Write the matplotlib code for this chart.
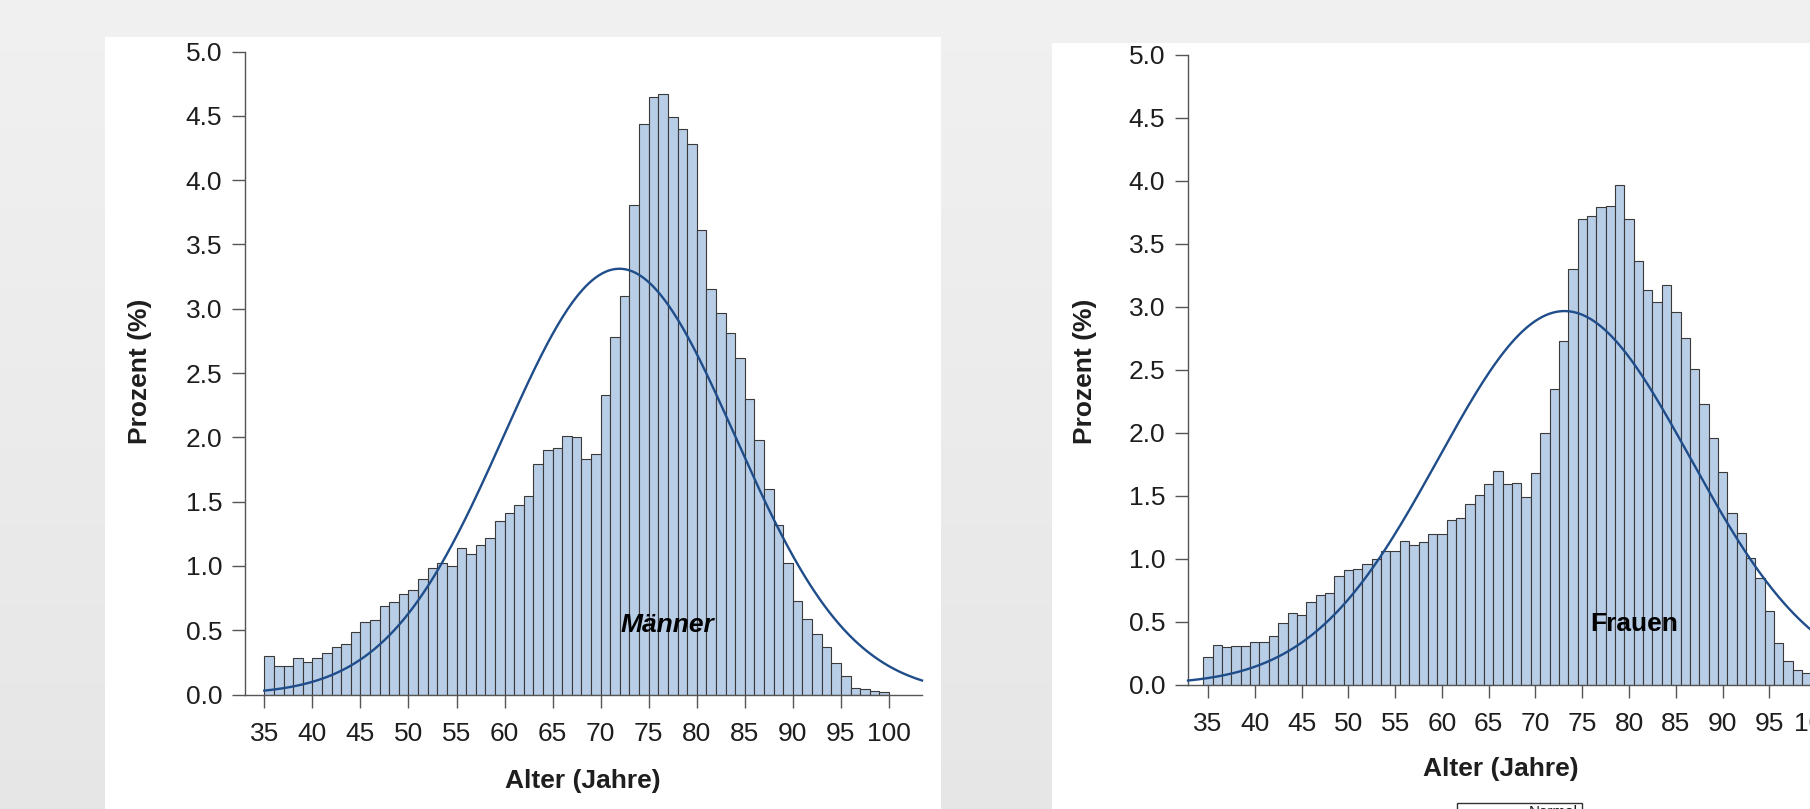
import numpy as np
import matplotlib.pyplot as plt
from matplotlib.patches import Rectangle

W, H = 1810, 809
DPI = 100

# ages (bins of 1 year) and percentages
AGES = list(range(35, 100))

MAENNER = [0.30, 0.225, 0.22, 0.28, 0.256, 0.28, 0.32, 0.37, 0.395, 0.484,
           0.56, 0.583, 0.687, 0.723, 0.785, 0.81, 0.90, 0.98, 1.02, 1.00,
           1.14, 1.09, 1.16, 1.22, 1.35, 1.41, 1.475, 1.54, 1.79, 1.90,
           1.92, 2.01, 2.00, 1.83, 1.87, 2.33, 2.78, 3.10, 3.81, 4.44,
           4.65, 4.67, 4.49, 4.40, 4.28, 3.61, 3.15, 2.97, 2.81, 2.62,
           2.30, 1.98, 1.60, 1.32, 1.02, 0.73, 0.585, 0.47, 0.366, 0.243,
           0.14, 0.05, 0.04, 0.025, 0.02]

FRAUEN = [0.22, 0.315, 0.30, 0.307, 0.307, 0.34, 0.34, 0.386, 0.49, 0.568,
          0.552, 0.655, 0.71, 0.73, 0.864, 0.915, 0.92, 0.958, 1.00, 1.06,
          1.065, 1.145, 1.11, 1.135, 1.20, 1.195, 1.31, 1.32, 1.435, 1.51,
          1.59, 1.70, 1.59, 1.605, 1.487, 1.684, 1.995, 2.35, 2.73, 3.30,
          3.70, 3.72, 3.79, 3.80, 3.97, 3.70, 3.36, 3.13, 3.04, 3.17,
          2.96, 2.75, 2.51, 2.23, 1.96, 1.69, 1.365, 1.207, 1.01, 0.844,
          0.584, 0.33, 0.185, 0.117, 0.095]

# fitted normal curves (mean, sd) as drawn in the reference
M_MEAN, M_SD = 71.95, 12.05
F_MEAN, F_SD = 73.1, 13.45

XTICKS = list(range(35, 101, 5))
YTICKS = [0.0, 0.5, 1.0, 1.5, 2.0, 2.5, 3.0, 3.5, 4.0, 4.5, 5.0]

BAR_FILL = "#b8cde6"
BAR_EDGE = "#3a3a3a"
CURVE = "#1f4d8a"
TXT = "#1e1e1e"

plt.rcParams["font.family"] = ["Liberation Sans", "DejaVu Sans"]

fig = plt.figure(figsize=(W / DPI, H / DPI), dpi=DPI)


def frect(x0, y0, x1, y1):
    """pixel box (top-left origin) -> figure fraction [l, b, w, h]"""
    return [x0 / W, 1 - y1 / H, (x1 - x0) / W, (y1 - y0) / H]


# background gradient + white chart panels
bg = fig.add_axes([0, 0, 1, 1], zorder=-10)
grad = np.linspace(0.94, 0.90, 256).reshape(-1, 1)
bg.imshow(grad, cmap="gray", vmin=0, vmax=1, aspect="auto", extent=[0, 1, 0, 1])
bg.add_patch(Rectangle((105 / W, 0), (941 - 105) / W, 1 - 37 / H,
                       facecolor="white", edgecolor="none"))
bg.add_patch(Rectangle((1052 / W, 0), 1 - 1052 / W, 1 - 43 / H,
                       facecolor="white", edgecolor="none"))
# legend box, cut off by the bottom edge
bg.add_patch(Rectangle((1457 / W, -0.02), (1582 - 1457) / W, 0.02 + 1 - 803.5 / H,
                       facecolor="white", edgecolor="#333333", lw=1.0))
bg.text(1553 / W, 1 - 804.5 / H, "Normal", fontsize=11, color=TXT,
        ha="center", va="top")
bg.set_xlim(0, 1)
bg.set_ylim(0, 1)
bg.axis("off")


def panel(rect, xlim, curve_x0, values, align, mean, sd, label, lab_xy,
          italic, xlab_pos, ylab_pos):
    ax = fig.add_axes(rect)
    ax.set_facecolor("none")
    ax.bar(AGES, values, width=1.0, align=align, color=BAR_FILL,
           edgecolor=BAR_EDGE, linewidth=0.8, zorder=2)
    x = np.linspace(curve_x0, xlim[1], 400)
    y = 100 * np.exp(-0.5 * ((x - mean) / sd) ** 2) / (sd * np.sqrt(2 * np.pi))
    ax.plot(x, y, color=CURVE, lw=1.7, zorder=3, clip_on=False)
    ax.text(lab_xy[0], lab_xy[1], label, fontsize=19, fontweight="bold",
            fontstyle="italic" if italic else "normal", color="black",
            ha="center", va="center", zorder=4)

    ax.set_xlim(*xlim)
    ax.set_ylim(0, 5)
    ax.set_xticks(XTICKS)
    ax.set_yticks(YTICKS)
    ax.set_yticklabels([f"{v:.1f}" for v in YTICKS])
    for s in ("top", "right"):
        ax.spines[s].set_visible(False)
    for s in ("left", "bottom"):
        ax.spines[s].set_color("#555555")
        ax.spines[s].set_linewidth(1.0)
    ax.tick_params(axis="both", length=9.5, width=1.0, color="#555555",
                   labelsize=19, labelcolor=TXT)
    ax.tick_params(axis="y", pad=7)
    ax.tick_params(axis="x", pad=10)

    ax.set_xlabel("Alter (Jahre)", fontsize=19, fontweight="bold", color=TXT,
                  va="center")
    ax.xaxis.set_label_coords(*xlab_pos)
    ax.set_ylabel("Prozent (%)", fontsize=19, fontweight="bold", color=TXT,
                  va="center")
    ax.yaxis.set_label_coords(*ylab_pos)
    return ax


# Männer: bars start at the tick, curve starts at 35
panel(frect(245, 51.5, 922, 694.5), (32.99, 103.44), 35.0, MAENNER, "edge",
      M_MEAN, M_SD, "Männer", (76.9, 0.54), True,
      (0.499, -0.134), (-0.155, 0.503))

# Frauen: bars centred on the tick, axis runs past the right edge
panel(frect(1188, 54.8, 1848, 684.8), (32.86, 103.4), 32.86, FRAUEN, "center",
      F_MEAN, F_SD, "Frauen", (80.6, 0.48), False,
      (0.4736, -0.1333), (-0.156, 0.497))

fig.savefig("out.png", dpi=DPI)
